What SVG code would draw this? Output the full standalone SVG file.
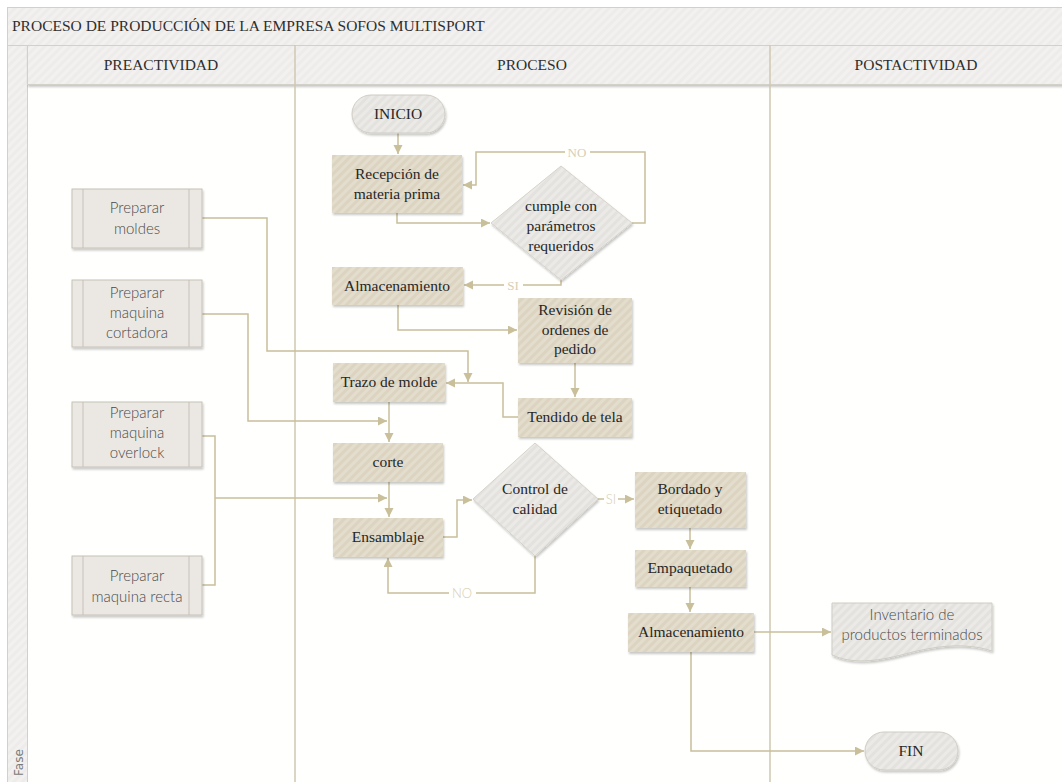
<svg xmlns="http://www.w3.org/2000/svg" width="1062" height="782" viewBox="0 0 1062 782">
  <defs>
    <pattern id="stripeTan" patternUnits="userSpaceOnUse" width="6" height="6" patternTransform="rotate(45)">
      <rect width="6" height="6" fill="#dcd4c1"/>
      <rect width="3" height="6" fill="#e3ddcd"/>
    </pattern>
    <pattern id="stripeGray" patternUnits="userSpaceOnUse" width="6" height="6" patternTransform="rotate(45)">
      <rect width="6" height="6" fill="#e3e2df"/>
      <rect width="3" height="6" fill="#ebeae7"/>
    </pattern>
    <pattern id="stripeHead" patternUnits="userSpaceOnUse" width="6" height="6" patternTransform="rotate(45)">
      <rect width="6" height="6" fill="#edecea"/>
      <rect width="3" height="6" fill="#f2f1ef"/>
    </pattern>
    <filter id="shadow" x="-10%" y="-10%" width="125%" height="135%">
      <feDropShadow dx="1" dy="2" stdDeviation="1.3" flood-color="#000" flood-opacity="0.22"/>
    </filter>
    <marker id="arrow" markerUnits="userSpaceOnUse" markerWidth="10" markerHeight="10" refX="9" refY="4.5" orient="auto">
      <path d="M0,0 L9,4.5 L0,9 Z" fill="#c9bf9a"/>
    </marker>
  </defs>
  <style>
    .lane { fill: #fffffd; }
    .divider { stroke: #cfc9b1; stroke-width: 1.5; fill: none; }
    .head { fill: url(#stripeHead); stroke: #d2d0c8; stroke-width: 1; }
    .htext { font-family: "Liberation Serif", serif; font-size: 15.5px; fill: #2e2e2e; }
    .proc { fill: url(#stripeTan); filter: url(#shadow); }
    .dec { fill: url(#stripeGray); stroke: #d6d3cc; stroke-width: 1; filter: url(#shadow); }
    .term { fill: url(#stripeGray); stroke: #cfccc3; stroke-width: 1; filter: url(#shadow); }
    .pre { fill: #ebe8e3; stroke: #c6c1b6; stroke-width: 1; filter: url(#shadow); }
    .preline { stroke: #c6c1b6; stroke-width: 1; }
    .ptext { font-family: "Liberation Serif", serif; font-size: 15.5px; fill: #262626; text-anchor: middle; }
    .stext { font-family: Lato, "Open Sans", sans-serif; font-weight: 300; font-size: 15px; fill: #4a4a4a; text-anchor: middle; }
    .conn { fill: none; stroke: #c9bf9a; stroke-width: 1.5; }
    .lbl { font-family: "Liberation Serif", serif; font-size: 13px; fill: #d6cfb6; text-anchor: middle; }
    .lbls { font-family: Lato, "Open Sans", sans-serif; font-weight: 300; font-size: 13px; fill: #d6cfb6; text-anchor: middle; }
  </style>

  <!-- Pool frame and lanes -->
  <rect x="0" y="0" width="1062" height="782" fill="#ffffff"/>
  <rect x="27" y="85" width="1035" height="697" class="lane"/>
  <rect x="7.5" y="7.5" width="1060" height="38" class="head"/>
  <text x="12" y="31" class="htext">PROCESO DE PRODUCCIÓN DE LA EMPRESA SOFOS MULTISPORT</text>
  <rect x="7.5" y="45.5" width="20" height="740" class="head"/>
  <text transform="translate(23,776) rotate(-90)" font-family="'DejaVu Sans', sans-serif" font-size="12" fill="#7a7a7a">Fase</text>
  <rect x="27.5" y="45.5" width="1040" height="39" class="head" filter="url(#shadow)"/>
  <text x="161" y="70" class="htext" text-anchor="middle">PREACTIVIDAD</text>
  <text x="532" y="70" class="htext" text-anchor="middle">PROCESO</text>
  <text x="916" y="70" class="htext" text-anchor="middle">POSTACTIVIDAD</text>
  <line x1="295" y1="45" x2="295" y2="782" class="divider"/>
  <line x1="770" y1="45" x2="770" y2="782" class="divider"/>

  <!-- Connectors -->
  <g id="connectors">
    <path class="conn" d="M398,133 V154" marker-end="url(#arrow)"/>
    <path class="conn" d="M397,213 V223 H490" marker-end="url(#arrow)"/>
    <path class="conn" d="M632,223 H645 V152 H476 V185 H463" marker-end="url(#arrow)"/>
    <path class="conn" d="M561,280 V285 H464" marker-end="url(#arrow)"/>
    <path class="conn" d="M398,305 V330 H517" marker-end="url(#arrow)"/>
    <path class="conn" d="M575,363 V397" marker-end="url(#arrow)"/>
    <path class="conn" d="M518,417 H503 V383 H446" marker-end="url(#arrow)"/>
    <path class="conn" d="M202,218 H267 V351 H468 V382" marker-end="url(#arrow)"/>
    <path class="conn" d="M202,314 H248 V421 H387" marker-end="url(#arrow)"/>
    <path class="conn" d="M389,402 V442" marker-end="url(#arrow)"/>
    <path class="conn" d="M389,482 V517" marker-end="url(#arrow)"/>
    <path class="conn" d="M202,436 H215 V585 H202"/>
    <path class="conn" d="M215,498 H387" marker-end="url(#arrow)"/>
    <path class="conn" d="M443,537 H457 V500 H472" marker-end="url(#arrow)"/>
    <path class="conn" d="M535,556 V593 H388 V558" marker-end="url(#arrow)"/>
    <path class="conn" d="M598,499 H634" marker-end="url(#arrow)"/>
    <path class="conn" d="M690,528 V549" marker-end="url(#arrow)"/>
    <path class="conn" d="M690,587 V612" marker-end="url(#arrow)"/>
    <path class="conn" d="M754,632 H831" marker-end="url(#arrow)"/>
    <path class="conn" d="M691,652 V751 H864" marker-end="url(#arrow)"/>
    <!-- branch labels -->
    <rect x="565" y="145" width="25" height="14" fill="#fffffd"/>
    <text x="577" y="157" class="lbl">NO</text>
    <rect x="504" y="278" width="19" height="14" fill="#fffffd"/>
    <text x="513" y="290" class="lbl">SI</text>
    <rect x="449" y="586" width="27" height="14" fill="#fffffd"/>
    <text x="462" y="598" class="lbls">NO</text>
    <rect x="604" y="492" width="14" height="14" fill="#fffffd"/>
    <text x="611" y="504" class="lbls">SI</text>
  </g>

  <!-- Preactividad nodes -->
  <g id="prep-moldes">
    <rect x="72" y="189" width="130" height="59" class="pre"/>
    <line x1="83" y1="189" x2="83" y2="248" class="preline"/>
    <line x1="189" y1="189" x2="189" y2="248" class="preline"/>
    <text x="137" y="213" class="stext">Preparar</text>
    <text x="137" y="234" class="stext">moldes</text>
  </g>
  <g id="prep-cortadora">
    <rect x="72" y="280" width="130" height="67" class="pre"/>
    <line x1="83" y1="280" x2="83" y2="347" class="preline"/>
    <line x1="189" y1="280" x2="189" y2="347" class="preline"/>
    <text x="137" y="298" class="stext">Preparar</text>
    <text x="137" y="318" class="stext">maquina</text>
    <text x="137" y="338" class="stext">cortadora</text>
  </g>
  <g id="prep-overlock">
    <rect x="72" y="402" width="130" height="65" class="pre"/>
    <line x1="83" y1="402" x2="83" y2="467" class="preline"/>
    <line x1="189" y1="402" x2="189" y2="467" class="preline"/>
    <text x="137" y="418" class="stext">Preparar</text>
    <text x="137" y="438" class="stext">maquina</text>
    <text x="137" y="458" class="stext">overlock</text>
  </g>
  <g id="prep-recta">
    <rect x="72" y="556" width="130" height="59" class="pre"/>
    <line x1="83" y1="556" x2="83" y2="615" class="preline"/>
    <line x1="189" y1="556" x2="189" y2="615" class="preline"/>
    <text x="137" y="581" class="stext">Preparar</text>
    <text x="137" y="602" class="stext">maquina recta</text>
  </g>

  <!-- Proceso nodes -->
  <g id="inicio">
    <rect x="352" y="95" width="93" height="38" rx="19" class="term"/>
    <text x="398" y="119" class="ptext">INICIO</text>
  </g>
  <g id="recepcion">
    <rect x="332" y="155" width="130" height="58" class="proc"/>
    <text x="397" y="179" class="ptext">Recepción de</text>
    <text x="397" y="199" class="ptext">materia prima</text>
  </g>
  <g id="cumple">
    <polygon points="561,166 632,223 561,280 491,223" class="dec"/>
    <text x="561" y="211" class="ptext">cumple con</text>
    <text x="561" y="231" class="ptext">parámetros</text>
    <text x="561" y="251" class="ptext">requeridos</text>
  </g>
  <g id="almacenamiento-1">
    <rect x="332" y="267" width="131" height="38" class="proc"/>
    <text x="397" y="291" class="ptext">Almacenamiento</text>
  </g>
  <g id="revision">
    <rect x="518" y="298" width="114" height="65" class="proc"/>
    <text x="575" y="315" class="ptext">Revisión de</text>
    <text x="575" y="335" class="ptext">ordenes de</text>
    <text x="575" y="354" class="ptext">pedido</text>
  </g>
  <g id="trazo">
    <rect x="333" y="363" width="112" height="39" class="proc"/>
    <text x="389" y="387" class="ptext">Trazo de molde</text>
  </g>
  <g id="tendido">
    <rect x="518" y="398" width="114" height="39" class="proc"/>
    <text x="575" y="422" class="ptext">Tendido de tela</text>
  </g>
  <g id="corte">
    <rect x="333" y="443" width="110" height="39" class="proc"/>
    <text x="388" y="467" class="ptext">corte</text>
  </g>
  <g id="ensamblaje">
    <rect x="333" y="518" width="110" height="39" class="proc"/>
    <text x="388" y="542" class="ptext">Ensamblaje</text>
  </g>
  <g id="control">
    <polygon points="535,443 598,499 535,556 473,499" class="dec"/>
    <text x="535" y="494" class="ptext">Control de</text>
    <text x="535" y="514" class="ptext">calidad</text>
  </g>
  <g id="bordado">
    <rect x="635" y="472" width="111" height="56" class="proc"/>
    <text x="690" y="494" class="ptext">Bordado y</text>
    <text x="690" y="514" class="ptext">etiquetado</text>
  </g>
  <g id="empaquetado">
    <rect x="635" y="550" width="111" height="37" class="proc"/>
    <text x="690" y="573" class="ptext">Empaquetado</text>
  </g>
  <g id="almacenamiento-2">
    <rect x="628" y="613" width="126" height="39" class="proc"/>
    <text x="691" y="637" class="ptext">Almacenamiento</text>
  </g>

  <!-- Postactividad nodes -->
  <g id="inventario">
    <path d="M832,603 H992 V651 C965,642 935,646 905,654 C875,662 852,664 832,655 Z" class="term"/>
    <text x="912" y="620" class="stext">Inventario de</text>
    <text x="912" y="640" class="stext">productos terminados</text>
  </g>
  <g id="fin">
    <rect x="865" y="732" width="93" height="38" rx="19" class="term"/>
    <text x="911" y="756" class="ptext">FIN</text>
  </g>
</svg>
